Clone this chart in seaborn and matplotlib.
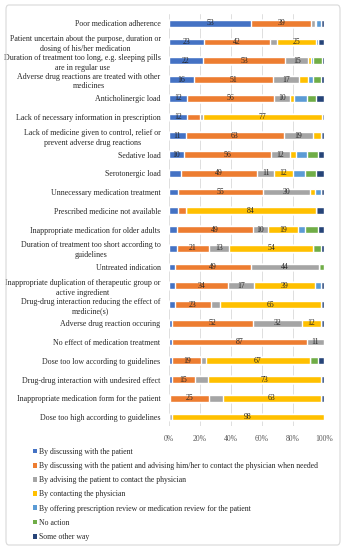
import numpy as np
import matplotlib.pyplot as plt
import seaborn as sns
from matplotlib.patches import Patch, FancyBboxPatch

# problem types, top to bottom
problems = [
    "Poor medication adherence",
    "Patient uncertain about the purpose, duration or\ndosing of his/her medication",
    "Duration of treatment too long, e.g. sleeping pills\nare in regular use",
    "Adverse drug reactions are treated with other\nmedicines",
    "Anticholinergic load",
    "Lack of necessary information in prescription",
    "Lack of medicine given to control, relief or\nprevent adverse drug reactions",
    "Sedative load",
    "Serotonergic load",
    "Unnecessary medication treatment",
    "Prescribed medicine not available",
    "Inappropriate medication for older adults",
    "Duration of treatment too short according to\nguidelines",
    "Untreated indication",
    "Inappropriate duplication of therapeutic group or\nactive ingredient",
    "Drug-drug interaction reducing the effect of\nmedicine(s)",
    "Adverse drug reaction occuring",
    "No effect of medication treatment",
    "Dose too low according to guidelines",
    "Drug-drug interaction with undesired effect",
    "Inappropriate medication form for the patient",
    "Dose too high according to guidelines",
]

# share of answers (%) per action
discussing = [53, 23, 22, 16, 12, 12, 11, 10, 8, 6, 6, 5, 5, 4, 4, 4, 2, 2, 2, 2, 1, 0]
discussing_advising = [39, 42, 53, 51, 56, 8, 63, 56, 49, 55, 5, 49, 21, 49, 34, 23, 52, 87, 19, 15, 25, 0]
advising_contact = [2, 5, 15, 17, 10, 2, 19, 12, 11, 30, 0, 10, 13, 44, 17, 6, 32, 11, 3, 8, 9, 2]
contacting = [1, 25, 2, 6, 3, 77, 5, 4, 12, 3, 84, 19, 54, 0, 39, 65, 12, 0, 67, 73, 63, 98]
offering_review = [3, 1, 1, 3, 8, 0, 0, 7, 8, 4, 0, 5, 0, 0, 4, 0, 0, 0, 0, 0, 0, 0]
no_action = [0, 0, 6, 5, 6, 0, 0, 7, 7, 0, 0, 8, 5, 3, 0, 0, 0, 0, 5, 0, 0, 0]
other_way = [2, 4, 1, 2, 5, 1, 2, 4, 5, 2, 5, 4, 2, 0, 2, 2, 2, 0, 4, 2, 2, 0]

series_names = [
    "By discussing with the patient",
    "By discussing with the patient and advising him/her to contact the physician when needed",
    "By advising the patient to contact the physician",
    "By contacting the physician",
    "By offering prescription review or medication review for the patient",
    "No action",
    "Some other way",
]
series = [discussing, discussing_advising, advising_contact, contacting,
          offering_review, no_action, other_way]
colors = ["#4472C4", "#ED7D31", "#A5A5A5", "#FFC000", "#5B9BD5", "#70AD47", "#264478"]

sns.set_theme(style="white")
plt.rcParams["font.family"] = ["Liberation Serif", "DejaVu Serif"]

fig = plt.figure(figsize=(3.46, 5.50), dpi=100)
ax = fig.add_axes([0.488, 0.2247, 0.448, 0.750])

vals = np.array(series, dtype=float)
cum = np.cumsum(vals, axis=0)

# stacked bars: draw cumulative totals from the outermost segment inwards
for i in reversed(range(len(series))):
    sns.barplot(x=cum[i], y=problems, orient="h", color=colors[i], saturation=1,
                width=0.36, errorbar=None, ax=ax, zorder=2)

# value labels inside segments (10 % and above)
for i in range(len(series)):
    left = cum[i] - vals[i]
    for r, v in enumerate(vals[i]):
        if v >= 10:
            ax.text(left[r] + v / 2, r, f"{int(v)}", ha="center", va="center",
                    fontsize=5.6, color="#262626")

ax.set_xlim(0, 100)
ax.set_ylim(len(problems) - 0.5, -0.5)
ax.set_xticks([0, 20, 40, 60, 80, 100])
ax.set_xticklabels([f"{t}%" for t in [0, 20, 40, 60, 80, 100]])
ax.xaxis.grid(True, color="#d9d9d9", lw=0.6)
ax.set_axisbelow(True)
for s in ax.spines.values():
    s.set_visible(False)
ax.set_xlabel("")
ax.set_ylabel("")
ax.tick_params(axis="x", length=0, labelsize=5.5, labelcolor="#595959", pad=6)
ax.tick_params(axis="y", length=0, labelsize=5.7, labelcolor="#262626", pad=6)
for lab in ax.get_yticklabels():
    lab.set_multialignment("center")
    lab.set_linespacing(1.3)

handles = [Patch(facecolor=c, edgecolor="none") for c in colors]
fig.legend(handles, series_names, loc="upper left", bbox_to_anchor=(0.095, 0.186),
           frameon=False, fontsize=5.6, handlelength=0.55, handleheight=0.55,
           handletextpad=0.25, labelspacing=0.8, borderpad=0, borderaxespad=0,
           labelcolor="#262626")

frame = FancyBboxPatch((6 / 346, 5 / 550), 334 / 346, 540 / 550,
                       boxstyle="round,pad=0,rounding_size=0.008",
                       transform=fig.transFigure, facecolor="none",
                       edgecolor="#d9d9d9", lw=0.8)
fig.patches.append(frame)

fig.savefig("out.png", dpi=100)
